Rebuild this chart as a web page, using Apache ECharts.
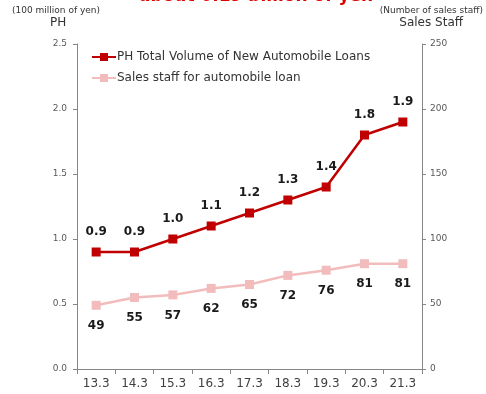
<!DOCTYPE html>
<html>
<head>
<meta charset="utf-8">
<script src="https://cdn.jsdelivr.net/npm/echarts@6/dist/echarts.min.js"></script>
<style>
html, body { margin: 0; padding: 0; background: #fff; }
#chart { width: 486px; height: 394px; }
</style>
</head>
<body>
<div id="chart"></div>
<script>
var categories = ["13.3", "14.3", "15.3", "16.3", "17.3", "18.3", "19.3", "20.3", "21.3"];
var loanVolume = [0.9, 0.9, 1.0, 1.1, 1.2, 1.3, 1.4, 1.8, 1.9];
var salesStaff = [49, 55, 57, 62, 65, 72, 76, 81, 81];
var leftTicks = [0, 0.5, 1.0, 1.5, 2.0, 2.5];
var rightTicks = [0, 50, 100, 150, 200, 250];

var font = "DejaVu Sans, Verdana, sans-serif";
var axisGray = "#868686";

var chart = echarts.init(document.getElementById("chart"));
var option = {
    backgroundColor: "#fff",
    animation: false,
    title: {
        text: "about 0.19 billion of yen",
        left: 134,
        top: -17,
        textStyle: { color: "#e00000", fontSize: 17, fontWeight: "bold", fontFamily: font }
    },
    grid: { left: 77, right: 64, top: 44, bottom: 25 },
    legend: {
        orient: "vertical",
        left: 86,
        top: 46,
        itemWidth: 24,
        itemHeight: 10,
        itemGap: 9,
        textStyle: { fontSize: 12, color: "#333", fontFamily: font, padding: [0, 0, 0, -4] },
        data: ["PH Total Volume of New Automobile Loans", "Sales staff for automobile loan"]
    },
    graphic: [
        { type: "text", left: 12, top: 6, style: { text: "(100 million of yen)", fontSize: 9, fill: "#333", fontFamily: font } },
        { type: "text", left: 50, top: 17, style: { text: "PH", fontSize: 12, fill: "#333", fontFamily: font } },
        { type: "text", right: 3, top: 6, style: { text: "(Number of sales staff)", fontSize: 9, fill: "#333", fontFamily: font } },
        { type: "text", right: 23, top: 17, style: { text: "Sales Staff", fontSize: 12, fill: "#333", fontFamily: font } }
    ],
    xAxis: {
        type: "category",
        data: categories,
        boundaryGap: true,
        axisLine: { lineStyle: { color: axisGray } },
        axisTick: { show: true, lineStyle: { color: axisGray } },
        axisLabel: { color: "#404040", fontSize: 12, fontFamily: font, margin: 9 }
    },
    yAxis: [
        {
            type: "value",
            min: leftTicks[0],
            max: leftTicks[leftTicks.length - 1],
            interval: 0.5,
            axisLine: { show: true, lineStyle: { color: axisGray } },
            axisTick: { show: true, length: 4, lineStyle: { color: axisGray } },
            splitLine: { show: false },
            axisLabel: {
                color: "#595959", fontSize: 9, fontFamily: font, margin: 10,
                formatter: function (v) { return v.toFixed(1); }
            }
        },
        {
            type: "value",
            min: rightTicks[0],
            max: rightTicks[rightTicks.length - 1],
            interval: 50,
            position: "right",
            axisLine: { show: true, lineStyle: { color: axisGray } },
            axisTick: { show: true, length: 4, lineStyle: { color: axisGray } },
            splitLine: { show: false },
            axisLabel: { color: "#595959", fontSize: 9, fontFamily: font, margin: 8 }
        }
    ],
    series: [
        {
            name: "PH Total Volume of New Automobile Loans",
            type: "line",
            yAxisIndex: 0,
            data: loanVolume,
            symbol: "rect",
            symbolSize: 9,
            color: "#c00000",
            lineStyle: { width: 2.5, color: "#c00000" },
            itemStyle: { color: "#c00000" },
            label: {
                show: true, position: "top", distance: 10,
                color: "#1a1a1a", fontSize: 12, fontWeight: "bold", fontFamily: font,
                formatter: function (p) { return p.value.toFixed(1); }
            }
        },
        {
            name: "Sales staff for automobile loan",
            type: "line",
            yAxisIndex: 1,
            data: salesStaff,
            symbol: "rect",
            symbolSize: 9,
            color: "#f2bcbc",
            lineStyle: { width: 2.5, color: "#f2bcbc" },
            itemStyle: { color: "#f2bcbc" },
            label: {
                show: true, position: "bottom", distance: 10,
                color: "#1a1a1a", fontSize: 12, fontWeight: "bold", fontFamily: font
            }
        }
    ]
};
chart.setOption(option);

window.onresize = function () {
    chart.resize();
};
</script>
</body>
</html>
